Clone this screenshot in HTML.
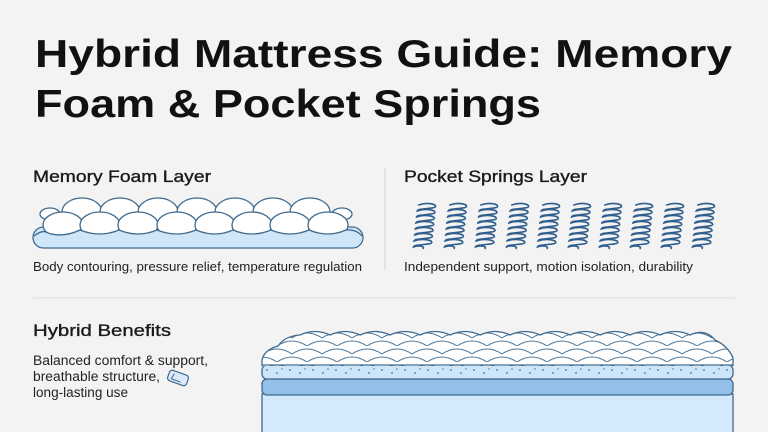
<!DOCTYPE html>
<html><head><meta charset="utf-8"><style>
html,body{margin:0;padding:0;background:#f3f3f3;}
svg{display:block;}
text{font-family:"Liberation Sans",sans-serif;}
</style></head><body>
<svg width="768" height="432" viewBox="0 0 768 432" xmlns="http://www.w3.org/2000/svg">
<defs>
  <path id="spr" d="M-8,2 c8,-3 17,-1 17,1.5 c0,2.5 -18,1.5 -18,4.5 c8,-3 18,-1 18,1.5 c0,2.5 -18,1.5 -18,4.5 c8,-3 18,-1 18,1.5 c0,2.5 -18,1.5 -18,4.5 c8,-3 18,-1 18,1.5 c0,2.5 -18,1.5 -18,4.5 c8,-3 18,-1 18,1.5 c0,2.5 -18,1.5 -18,4.5 c8,-3 18,-1 18,1.5 c0,2.5 -18,1.5 -18,4.5 c8,-3 18,-1 18,1.5 c0,2.5 -18,1.5 -18,4.5 c5,-2 11,-1 10,1.5" fill="none" stroke="#2f5d8c" stroke-width="1.6" stroke-linecap="round"/>
  <pattern id="scale" patternUnits="userSpaceOnUse" x="262" y="330" width="30" height="16">
    <path d="M0,8 Q15,-2 30,8 M-15,16 Q0,6 15,16 M15,16 Q30,6 45,16" fill="none" stroke="#4a7396" stroke-width="1"/>
  </pattern>
  <pattern id="dots" patternUnits="userSpaceOnUse" x="262" y="365" width="23" height="14">
    <circle cx="5" cy="5" r="0.9" fill="#4a6f90"/>
    <circle cx="15" cy="8" r="0.9" fill="#4a6f90"/>
    <circle cx="20" cy="4" r="0.7" fill="#4a6f90"/>
  </pattern>
  <clipPath id="topclip">
    <path d="M262,366 L262,360 Q264,350 278,346 Q285,336 300,335 Q315,328 330,335 Q345,328 360,335 Q375,328 390,335 Q405,328 420,335 Q435,328 450,335 Q465,328 480,335 Q495,328 510,335 Q525,328 540,335 Q555,328 570,335 Q585,328 600,335 Q615,328 630,335 Q645,328 660,335 Q675,328 690,335 Q705,328 715,340 Q728,346 733,358 L733,366 Z"/>
  </clipPath>
</defs>

<rect width="768" height="432" fill="#f3f3f3"/>

<!-- Title -->
<text x="35" y="67" font-size="39" font-weight="700" fill="#111" textLength="697" lengthAdjust="spacingAndGlyphs">Hybrid Mattress Guide: Memory</text>
<text x="35" y="117" font-size="39" font-weight="700" fill="#111" textLength="506" lengthAdjust="spacingAndGlyphs">Foam &amp; Pocket Springs</text>

<!-- Section headings -->
<text x="33" y="182" font-size="17" fill="#1a1a1a" stroke="#1a1a1a" stroke-width="0.35" textLength="178" lengthAdjust="spacingAndGlyphs">Memory Foam Layer</text>
<text x="404" y="182" font-size="17" fill="#1a1a1a" stroke="#1a1a1a" stroke-width="0.35" textLength="183" lengthAdjust="spacingAndGlyphs">Pocket Springs Layer</text>

<!-- vertical divider -->
<line x1="385" y1="168" x2="385" y2="270" stroke="#d4d4d4" stroke-width="1"/>

<!-- Memory foam drawing -->
<rect x="33" y="227" width="330" height="21" rx="10.5" fill="#cfe6f9" stroke="#3f6a8e" stroke-width="1.3"/>
<g fill="#ffffff" stroke="#3f6a8e" stroke-width="1.3">
  <ellipse cx="50" cy="214" rx="10" ry="6"/>
  <ellipse cx="342" cy="214" rx="10" ry="6"/>
  <ellipse cx="82" cy="212" rx="20" ry="14"/>
  <ellipse cx="120" cy="212" rx="20" ry="14"/>
  <ellipse cx="158" cy="212" rx="20" ry="14"/>
  <ellipse cx="197" cy="212" rx="20" ry="14"/>
  <ellipse cx="235" cy="212" rx="20" ry="14"/>
  <ellipse cx="273" cy="212" rx="20" ry="14"/>
  <ellipse cx="310" cy="212" rx="20" ry="14"/>
  <ellipse cx="63" cy="225" rx="20" ry="13"/>
  <ellipse cx="100" cy="225" rx="20" ry="13"/>
  <ellipse cx="138" cy="225" rx="20" ry="13"/>
  <ellipse cx="177" cy="225" rx="20" ry="13"/>
  <ellipse cx="215" cy="225" rx="20" ry="13"/>
  <ellipse cx="252" cy="225" rx="20" ry="13"/>
  <ellipse cx="290" cy="225" rx="20" ry="13"/>
  <ellipse cx="328" cy="225" rx="20" ry="13"/>
</g>
<path d="M34,236 Q43,229 48,233 Q63,238 80,230 Q100,238 119,230 Q138,238 157,230 Q177,238 196,230 Q215,238 233,230 Q252,238 271,230 Q290,238 309,230 Q328,238 346,230 Q356,229 362,236 L362,240 L34,240 Z" fill="#cfe6f9" stroke="none"/>
<path d="M34,236 Q43,229 48,233 Q63,238 80,230 Q100,238 119,230 Q138,238 157,230 Q177,238 196,230 Q215,238 233,230 Q252,238 271,230 Q290,238 309,230 Q328,238 346,230 Q356,229 362,236" fill="none" stroke="#3f6a8e" stroke-width="1.3"/>

<text x="33" y="271" font-size="13" fill="#222" textLength="329" lengthAdjust="spacingAndGlyphs">Body contouring, pressure relief, temperature regulation</text>

<!-- Springs -->
<g transform="translate(0,203) skewX(-6)">
  <use href="#spr" x="427"/>
  <use href="#spr" x="458"/>
  <use href="#spr" x="489"/>
  <use href="#spr" x="520"/>
  <use href="#spr" x="551"/>
  <use href="#spr" x="582"/>
  <use href="#spr" x="613"/>
  <use href="#spr" x="644"/>
  <use href="#spr" x="675"/>
  <use href="#spr" x="706"/>
</g>

<text x="404" y="271" font-size="13" fill="#222" textLength="289" lengthAdjust="spacingAndGlyphs">Independent support, motion isolation, durability</text>

<!-- horizontal divider -->
<line x1="33" y1="298" x2="735" y2="298" stroke="#dedede" stroke-width="1"/>

<!-- Hybrid benefits -->
<text x="33" y="336" font-size="17" fill="#1a1a1a" stroke="#1a1a1a" stroke-width="0.35" textLength="138" lengthAdjust="spacingAndGlyphs">Hybrid Benefits</text>
<text x="33" y="365" font-size="13.5" fill="#222" textLength="175" lengthAdjust="spacingAndGlyphs">Balanced comfort &amp; support,</text>
<text x="33" y="381" font-size="13.5" fill="#222" textLength="127" lengthAdjust="spacingAndGlyphs">breathable structure,</text>
<text x="33" y="397" font-size="13.5" fill="#222" textLength="95" lengthAdjust="spacingAndGlyphs">long-lasting use</text>
<g transform="translate(178,378) rotate(20)">
  <rect x="-10" y="-5.5" width="20" height="11" rx="3" fill="#dbeaf8" stroke="#3f6a8e" stroke-width="1.2"/>
  <path d="M-5,-3 L-6,3 L4,3" fill="none" stroke="#3f6a8e" stroke-width="1"/>
</g>

<!-- Mattress -->
<rect x="262" y="394" width="471" height="50" fill="#d4eafc" stroke="#3f6a8e" stroke-width="1.3"/>
<rect x="262" y="379" width="471" height="16" rx="5" fill="#93c0e8" stroke="#3f6a8e" stroke-width="1.3"/>
<rect x="262" y="365" width="471" height="14" rx="5" fill="#cde5f8" stroke="#3f6a8e" stroke-width="1.3"/>
<rect x="264" y="366" width="467" height="12" fill="url(#dots)"/>
<path d="M262,366 L262,360 Q264,350 278,346 Q285,336 300,335 Q315,328 330,335 Q345,328 360,335 Q375,328 390,335 Q405,328 420,335 Q435,328 450,335 Q465,328 480,335 Q495,328 510,335 Q525,328 540,335 Q555,328 570,335 Q585,328 600,335 Q615,328 630,335 Q645,328 660,335 Q675,328 690,335 Q705,328 715,340 Q728,346 733,358 L733,366 Z" fill="#ffffff"/>
<rect x="262" y="330" width="471" height="36" fill="url(#scale)" clip-path="url(#topclip)"/>
<path d="M262,366 L262,360 Q264,350 278,346 Q285,336 300,335 Q315,328 330,335 Q345,328 360,335 Q375,328 390,335 Q405,328 420,335 Q435,328 450,335 Q465,328 480,335 Q495,328 510,335 Q525,328 540,335 Q555,328 570,335 Q585,328 600,335 Q615,328 630,335 Q645,328 660,335 Q675,328 690,335 Q705,328 715,340 Q728,346 733,358 L733,366" fill="none" stroke="#3f6a8e" stroke-width="1.3"/>
<line x1="262" y1="365" x2="733" y2="365" stroke="#3f6a8e" stroke-width="1.3"/>
</svg>
</body></html>
